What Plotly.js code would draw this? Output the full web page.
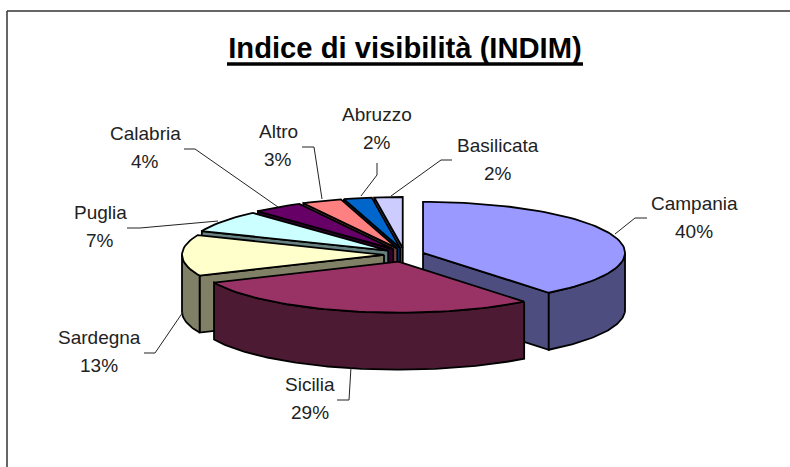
<!DOCTYPE html>
<html>
<head>
<meta charset="utf-8">
<script src="https://cdn.plot.ly/plotly-3.0.1.min.js"></script>
<style>html,body{margin:0;padding:0;background:#fff}#chart{width:790px;height:467px}</style>
</head>
<body>
<div id="chart"></div>
<script>
// Data
var categories = ['Campania','Sicilia','Sardegna','Puglia','Calabria','Altro','Abruzzo','Basilicata'];
var values = [40,29,13,7,4,3,2,2];

// Styles
var topColors  = ['#9999FF','#993366','#FFFFCC','#CCFFFF','#660066','#FF8080','#0066CC','#CCCCFF'];
var sideColors = ['#4D4D80','#4D1A33','#808066','#668080','#330033','#804040','#003366','#666680'];
var drawOrder  = [7,6,5,4,3,2,0,1];

// Label placement
var labelX     = [694,310,99,100,145,278,377,498];
var labelY1    = [203,384,337,212,133,131,114,145];
var labelGap   = 28;
var leaderA    = [[615,234],[351,367],[183,312],[218,221],[278,207],[322,199],[361,196],[391,196]];
var leaderB    = [[635,218],[349,400],[155,353],[140,228],[195,149],[314,147],[377,175],[441,160]];
var leaderC    = [[647,218],[337,400],[144,353],[127,228],[184,149],[302,147],[377,163],[452,160]];

// Pie projection
var cx = 404, cy = 255, rx = 202, ry = 51, depth = 57, pullX = 20, pullY = 7, skewDeg = 2.5;

var total = values.reduce(function(a,b){return a+b;},0);
var traces = [];
function poly(xs, ys, fill) {
  traces.push({type:'scatter', mode:'lines', x:xs, y:ys, fill:'toself', fillcolor:fill,
    line:{color:'#000', width:1.8, shape:'linear'}, hoverinfo:'skip', showlegend:false});
}
function rad(d){return d*Math.PI/180;}
// the view direction shifts projected angles slightly, except near the back of the pie
function warp(a){
  var k = a < 100 ? a/100 : (a > 340 ? (360-a)/20 : 1);
  return a - skewDeg*k;
}
var starts = [], acc = 0;
values.forEach(function(v){ starts.push(acc); acc += v/total*360; });

drawOrder.forEach(function(i){
  var a0 = starts[i], a1 = a0 + values[i]/total*360, mid = (a0+a1)/2;
  var ox = cx + pullX*Math.sin(rad(mid)), oy = cy - pullY*Math.cos(rad(mid));
  function px(a){return ox + rx*Math.sin(rad(warp(a)));}
  function py(a){return oy - ry*Math.cos(rad(warp(a)));}
  // radial cut faces that look toward the viewer
  var faces = [];
  if (a0 > 180) faces.push(a0);
  if (a1 < 180) faces.push(a1);
  faces.forEach(function(a){
    poly([ox,px(a),px(a),ox,ox],[oy,py(a),py(a)+depth,oy+depth,oy],sideColors[i]);
  });
  // outer wall: the arc portion facing the viewer
  var wall = [], a;
  for (a=a0; a<a1; a+=1){ if (warp(a)>=90 && warp(a)<=270) wall.push(a); }
  if (warp(a1)>=90 && warp(a1)<=270) wall.push(a1);
  if (wall.length > 1) {
    var wx=[], wy=[];
    wall.forEach(function(t){wx.push(px(t)); wy.push(py(t));});
    wall.slice().reverse().forEach(function(t){wx.push(px(t)); wy.push(py(t)+depth);});
    wx.push(wx[0]); wy.push(wy[0]);
    poly(wx,wy,sideColors[i]);
  }
  // top surface
  var tx=[ox], ty=[oy], b;
  for (b=a0; b<a1; b+=2){tx.push(px(b)); ty.push(py(b));}
  tx.push(px(a1)); ty.push(py(a1)); tx.push(ox); ty.push(oy);
  poly(tx,ty,topColors[i]);
});

// Leaders
categories.forEach(function(c,i){
  traces.push({type:'scatter', mode:'lines',
    x:[leaderA[i][0],leaderB[i][0],leaderC[i][0]],
    y:[leaderA[i][1],leaderB[i][1],leaderC[i][1]],
    line:{color:'#222', width:1}, hoverinfo:'skip', showlegend:false});
});

// Labels
var labelFont = {family:'"Liberation Sans", Arial, sans-serif', size:19, color:'#222'};
var annotations = [];
categories.forEach(function(c,i){
  annotations.push({x:labelX[i], y:labelY1[i], text:c, xref:'x', yref:'y', showarrow:false, font:labelFont, xanchor:'center', yanchor:'middle'});
  annotations.push({x:labelX[i], y:labelY1[i]+labelGap, text:values[i]+'%', xref:'x', yref:'y', showarrow:false, font:labelFont, xanchor:'center', yanchor:'middle'});
});

var layout = {
  width:790, height:467, margin:{l:0,r:0,t:0,b:0}, autosize:false,
  paper_bgcolor:'#fff', plot_bgcolor:'#fff', showlegend:false, hovermode:false,
  title:{text:'<b>Indice di visibilità (INDIM)</b>',
    font:{family:'"Liberation Sans", Arial, sans-serif', size:29.2, color:'#000'},
    x:405/790, xanchor:'center', y:1-48/467, yanchor:'middle'},
  xaxis:{range:[0,790], visible:false, fixedrange:true},
  yaxis:{range:[467,0], visible:false, fixedrange:true},
  annotations:annotations,
  shapes:[
    {type:'line', xref:'x', yref:'y', x0:7, x1:790, y0:11, y1:11, line:{color:'#333', width:1.5}},
    {type:'line', xref:'x', yref:'y', x0:7, x1:7, y0:11, y1:467, line:{color:'#333', width:1.5}},
    {type:'line', xref:'x', yref:'y', x0:227, x1:583, y0:64, y1:64, line:{color:'#000', width:3.5}}
  ]
};
Plotly.newPlot('chart', traces, layout, {displayModeBar:false, staticPlot:true});
</script>
</body>
</html>
